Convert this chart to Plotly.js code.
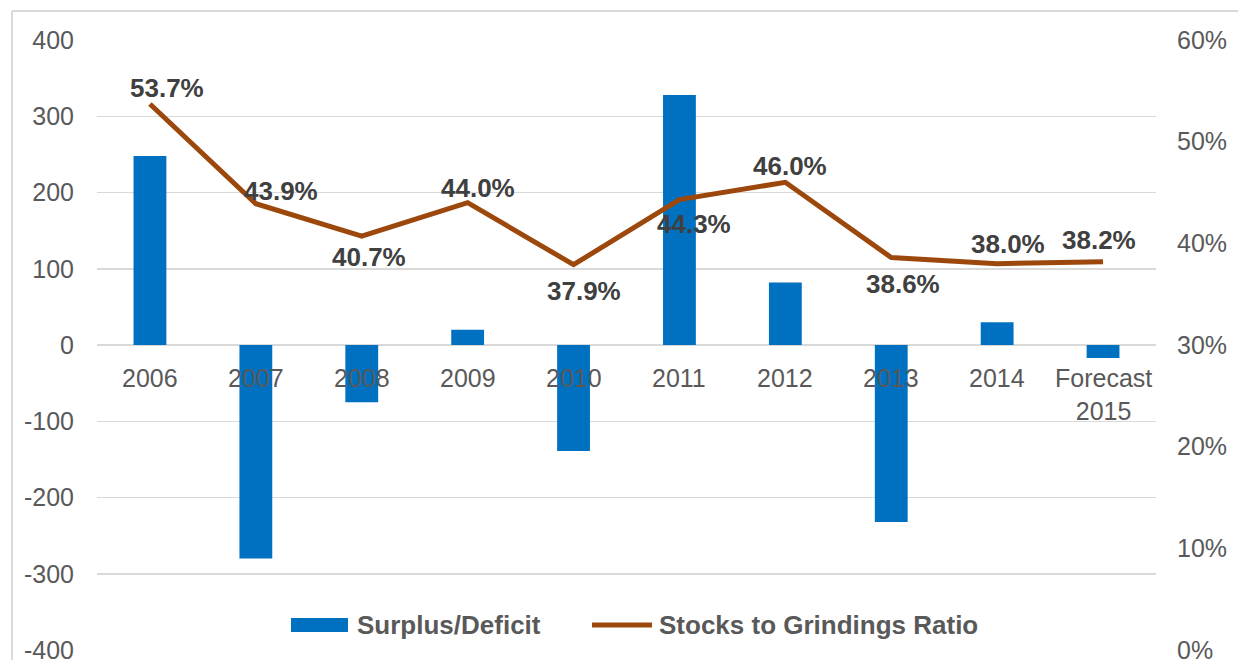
<!DOCTYPE html>
<html>
<head>
<meta charset="utf-8">
<script src="https://cdn.plot.ly/plotly-3.0.1.min.js"></script>
<style>
  html, body { margin: 0; padding: 0; background: #ffffff; }
  #chart { width: 1238px; height: 660px; }
</style>
</head>
<body>
<div id="chart"></div>
<script>
// ---- data ----
const categories = ["2006", "2007", "2008", "2009", "2010", "2011", "2012", "2013", "2014", "Forecast 2015"];
const categoryLabels = ["2006", "2007", "2008", "2009", "2010", "2011", "2012", "2013", "2014", "Forecast<br>2015"];
const surplusDeficit = [248, -280, -75, 20, -139, 328, 82, -232, 30, -17];
const stocksToGrindings = [53.7, 43.9, 40.7, 44.0, 37.9, 44.3, 46.0, 38.6, 38.0, 38.2];
const seriesNames = ["Surplus/Deficit", "Stocks to Grindings Ratio"];
const leftTicks = [-400, -300, -200, -100, 0, 100, 200, 300, 400];
const rightTicks = [0, 10, 20, 30, 40, 50, 60];

// label offsets (pixels) for the ratio data labels: [dx, dy(screen down)]
const labelOffsets = [[17, -16], [25, -13], [7, 21], [10, -15], [10, 26], [15, 24], [5, -16], [12, 26], [11, -20], [-4, -22]];

const FONT = "Liberation Sans, Arial, Helvetica, sans-serif";
const BAR_COLOR = "#0070C0";
const LINE_COLOR = "#9C480C";

const traces = [
  {
    type: "bar",
    name: seriesNames[0],
    x: categories,
    y: surplusDeficit,
    marker: { color: BAR_COLOR },
    xaxis: "x",
    yaxis: "y",
    showlegend: false
  },
  {
    type: "scatter",
    mode: "lines",
    name: seriesNames[1],
    x: categories,
    y: stocksToGrindings,
    line: { color: LINE_COLOR, width: 5 },
    xaxis: "x",
    yaxis: "y2",
    showlegend: false
  }
];

const annotations = [];
// ratio data labels (x given as the category index on the category axis)
stocksToGrindings.forEach((v, i) => annotations.push({
  x: i, y: v, xref: "x", yref: "y2",
  text: v.toFixed(1) + "%",
  showarrow: false, xanchor: "center", yanchor: "middle",
  xshift: labelOffsets[i][0], yshift: -labelOffsets[i][1],
  font: { family: FONT, size: 26, color: "#404040", weight: "bold" }
}));
// category labels sitting under the zero line
categories.forEach((c, i) => annotations.push({
  x: i, y: 0, xref: "x", yref: "y",
  text: categoryLabels[i],
  showarrow: false, xanchor: "center", yanchor: "top",
  yshift: -17,
  font: { family: FONT, size: 25, color: "#595959" }
}));
// legend texts
annotations.push({
  x: 0.2436, y: 0.041, xref: "paper", yref: "paper", text: seriesNames[0],
  showarrow: false, xanchor: "left", yanchor: "middle",
  font: { family: FONT, size: 26, color: "#595959", weight: "bold" }
});
annotations.push({
  x: 0.5288, y: 0.041, xref: "paper", yref: "paper", text: seriesNames[1],
  showarrow: false, xanchor: "left", yanchor: "middle",
  font: { family: FONT, size: 26, color: "#595959", weight: "bold" }
});

const layout = {
  width: 1238,
  height: 660,
  margin: { l: 97, r: 82, t: 40, b: 10, pad: 0 },
  paper_bgcolor: "#ffffff",
  plot_bgcolor: "#ffffff",
  font: { family: FONT, size: 25, color: "#595959" },
  bargap: 0.69,
  showlegend: false,
  xaxis: {
    type: "category",
    range: [-0.5, 9.5],
    showgrid: false,
    zeroline: false,
    showline: false,
    showticklabels: false,
    ticks: "",
    fixedrange: true
  },
  yaxis: {
    range: [-400, 400],
    tickvals: leftTicks,
    ticktext: leftTicks.map(String),
    showgrid: true,
    gridcolor: "#D9D9D9",
    gridwidth: 1.5,
    zeroline: false,
    showline: false,
    ticks: "",
    ticklabelstandoff: 22,
    ticklabeloverflow: "allow",
    tickfont: { family: FONT, size: 25, color: "#595959" },
    fixedrange: true
  },
  yaxis2: {
    overlaying: "y",
    side: "right",
    range: [0, 60],
    tickvals: rightTicks,
    ticktext: rightTicks.map(t => t + "%"),
    showgrid: false,
    zeroline: false,
    showline: false,
    ticks: "",
    ticklabelstandoff: 20,
    ticklabeloverflow: "allow",
    tickfont: { family: FONT, size: 25, color: "#595959" },
    fixedrange: true
  },
  annotations: annotations,
  shapes: [
    { type: "line", xref: "paper", yref: "paper", x0: -0.0803, x1: -0.0803, y0: -0.2, y1: 1.0475,
      line: { color: "#D9D9D9", width: 2 } },
    { type: "line", xref: "paper", yref: "paper", x0: -0.0803, x1: 1.2, y0: 1.0475, y1: 1.0475,
      line: { color: "#D9D9D9", width: 2 } },
    // legend swatches
    { type: "rect", xref: "paper", yref: "paper", x0: 0.1832, x1: 0.2370, y0: 0.0295, y1: 0.0525,
      fillcolor: BAR_COLOR, line: { width: 0 } },
    { type: "line", xref: "paper", yref: "paper", x0: 0.4674, x1: 0.5241, y0: 0.041, y1: 0.041,
      line: { color: LINE_COLOR, width: 5 } }
  ]
};

Plotly.newPlot("chart", traces, layout, { displayModeBar: false, staticPlot: true });
</script>
</body>
</html>
